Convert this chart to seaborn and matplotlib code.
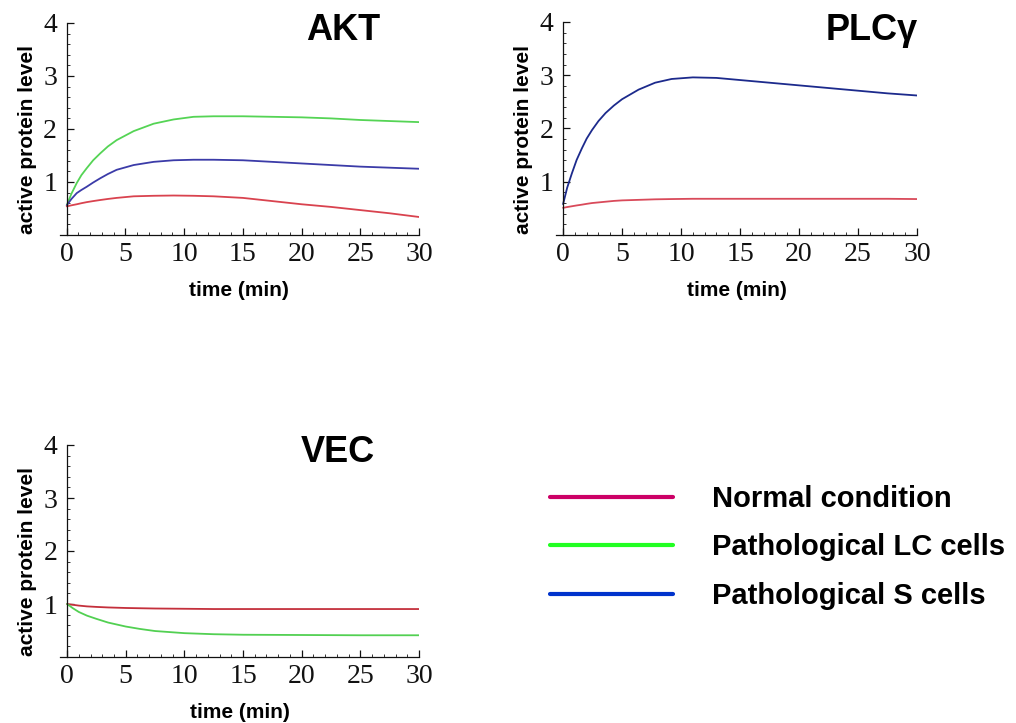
import matplotlib
matplotlib.use("Agg")
import matplotlib.pyplot as plt
from matplotlib.ticker import MultipleLocator, FixedLocator
from matplotlib.lines import Line2D
import numpy as np
import pandas as pd
import seaborn as sns

# ---- data ----
akt_time = [0, 0.4, 0.85, 1.25, 1.7, 2.25, 2.85, 3.5, 4.25, 5.7, 7.4, 9.1, 10.8, 12.5, 15, 17.5, 20, 22.5, 25, 27.5, 30]
akt_normal = [0.54, 0.56, 0.58, 0.60, 0.62, 0.64, 0.66, 0.68, 0.70, 0.73, 0.74, 0.745, 0.74, 0.73, 0.70, 0.64, 0.58, 0.53, 0.47, 0.41, 0.34]
akt_lc = [0.56, 0.78, 0.98, 1.13, 1.26, 1.41, 1.54, 1.67, 1.79, 1.96, 2.10, 2.18, 2.23, 2.24, 2.24, 2.23, 2.22, 2.20, 2.17, 2.15, 2.13]
akt_s = [0.56, 0.68, 0.79, 0.85, 0.91, 0.99, 1.07, 1.15, 1.23, 1.32, 1.38, 1.41, 1.42, 1.42, 1.41, 1.38, 1.35, 1.32, 1.29, 1.27, 1.25]

plc_time = [0, 0.35, 0.75, 1.15, 1.6, 2.0, 2.45, 3.0, 3.6, 4.3, 5, 6.4, 7.8, 9.2, 11, 13, 15, 17.5, 20, 22.5, 25, 27.5, 30]
plc_normal = [0.51, 0.525, 0.54, 0.555, 0.57, 0.585, 0.60, 0.612, 0.625, 0.64, 0.65, 0.66, 0.67, 0.675, 0.68, 0.68, 0.68, 0.68, 0.68, 0.68, 0.68, 0.68, 0.675]
plc_s = [0.58, 0.89, 1.16, 1.41, 1.63, 1.81, 1.97, 2.14, 2.29, 2.43, 2.55, 2.73, 2.86, 2.93, 2.96, 2.95, 2.91, 2.86, 2.81, 2.76, 2.71, 2.66, 2.62]

vec_time = [0, 0.5, 1, 1.7, 2.5, 3.5, 5, 6.2, 7.5, 10, 12.5, 15, 20, 25, 30]
vec_normal = [1.0, 0.985, 0.97, 0.955, 0.945, 0.935, 0.925, 0.92, 0.915, 0.91, 0.905, 0.905, 0.905, 0.905, 0.905]
vec_lc = [1.0, 0.92, 0.85, 0.78, 0.72, 0.65, 0.575, 0.53, 0.49, 0.45, 0.43, 0.42, 0.415, 0.41, 0.41]

legend_labels = ["Normal condition", "Pathological LC cells", "Pathological S cells"]
legend_colors = ["#cc0066", "#22ff22", "#0033cc"]

W, H = 1016, 723

sns.set_style("ticks")
plt.rcParams["font.family"] = ["Liberation Sans", "DejaVu Sans"]
plt.rcParams["text.color"] = "black"
plt.rcParams["axes.labelcolor"] = "black"

fig = plt.figure(figsize=(W / 100, H / 100), dpi=100)


def make_axes(left, right, top, bottom):
    return fig.add_axes([left / W, 1 - bottom / H, (right - left) / W, (bottom - top) / H])


def style_axes(ax, title, tx, ty):
    ax.set_xlim(-0.6, 30)
    ax.set_ylim(0, 4)
    ax.spines["top"].set_visible(False)
    ax.spines["right"].set_visible(False)
    ax.spines["left"].set_position(("data", 0))
    for s in ("left", "bottom"):
        ax.spines[s].set_color("#111111")
        ax.spines[s].set_linewidth(0.9)
    ax.xaxis.set_major_locator(MultipleLocator(5))
    ax.xaxis.set_minor_locator(MultipleLocator(1))
    ax.yaxis.set_major_locator(FixedLocator([1, 2, 3, 4]))
    ax.yaxis.set_minor_locator(MultipleLocator(0.2))
    ax.tick_params(axis="both", which="both", bottom=True, left=True, top=False, right=False)
    ax.tick_params(axis="both", which="major", direction="in", length=5, width=0.9,
                   color="#111111", labelsize=20, labelcolor="#111111")
    ax.tick_params(axis="both", which="minor", direction="in", length=2.5, width=0.7,
                   color="#333333")
    ax.tick_params(axis="y", which="major", pad=7)
    ax.tick_params(axis="x", which="major", pad=5)
    for lab in ax.get_xticklabels() + ax.get_yticklabels():
        lab.set_family(["Liberation Serif", "DejaVu Serif"])
    ax.set_xlabel("time (min)", fontsize=15, fontweight="bold")
    ax.set_ylabel("active protein level", fontsize=15, fontweight="bold")
    ax.xaxis.set_label_coords(0.5, -0.215)
    ax.yaxis.set_label_coords(-0.063, 0.45)
    ax.text(tx, ty, title, transform=ax.transAxes, ha="center", va="baseline",
            fontsize=26, fontweight="bold")
    ax.set_facecolor("white")


lw = 1.3

# AKT panel
ax1 = make_axes(59.7, 419, 23, 235)
sns.lineplot(x=akt_time, y=akt_lc, ax=ax1, color="#55d455", lw=lw)
sns.lineplot(x=akt_time, y=akt_s, ax=ax1, color="#3b3ba8", lw=lw)
sns.lineplot(x=akt_time, y=akt_normal, ax=ax1, color="#d9434f", lw=lw)
style_axes(ax1, "AKT", 0.788, 0.92)

# PLCgamma panel
ax2 = make_axes(556, 917, 22, 235)
sns.lineplot(x=plc_time, y=plc_s, ax=ax2, color="#1c2a8c", lw=lw)
sns.lineplot(x=plc_time, y=plc_normal, ax=ax2, color="#d94a5a", lw=lw)
style_axes(ax2, "PLC\u03b3", 0.874, 0.915)

# VEC panel
ax3 = make_axes(60, 419, 445, 657)
sns.lineplot(x=vec_time, y=vec_normal, ax=ax3, color="#c4303c", lw=lw)
sns.lineplot(x=vec_time, y=vec_lc, ax=ax3, color="#52d052", lw=lw)
style_axes(ax3, "VEC", 0.775, 0.921)

# legend
handles = [Line2D([], [], color=c, lw=3, solid_capstyle="round") for c in legend_colors]
leg = fig.legend(handles, legend_labels, loc="upper left",
                 bbox_to_anchor=(550 / W, 1 - 485 / H), frameon=False,
                 borderpad=0, borderaxespad=0, handlelength=4.2, handletextpad=1.35,
                 labelspacing=0.7, prop={"size": 21, "weight": "bold"})

fig.savefig("out.png", dpi=100, facecolor="white")
